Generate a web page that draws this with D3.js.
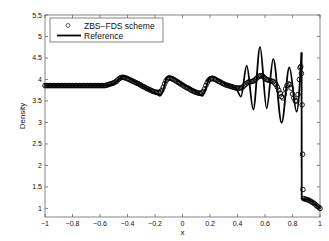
<!DOCTYPE html>
<html>
<head>
<meta charset="utf-8">
<script src="https://cdn.jsdelivr.net/npm/d3@7"></script>
<style>
  body { margin: 0; background: #fff; }
  text { font-family: "Liberation Sans", Arial, sans-serif; fill: #111; }
</style>
</head>
<body>
<div id="chart"></div>
<script>
// numerical solution (ZBS-FDS scheme), [x, density]
const schemePts = [
  [-1,3.857],[-0.99,3.857],[-0.98,3.857],[-0.97,3.857],[-0.96,3.857],[-0.95,3.857],[-0.94,3.857],[-0.93,3.857],[-0.92,3.857],[-0.91,3.857],
  [-0.9,3.857],[-0.89,3.857],[-0.88,3.857],[-0.87,3.857],[-0.86,3.857],[-0.85,3.857],[-0.84,3.857],[-0.83,3.857],[-0.82,3.857],[-0.81,3.857],
  [-0.8,3.857],[-0.79,3.857],[-0.78,3.857],[-0.77,3.857],[-0.76,3.857],[-0.75,3.857],[-0.74,3.857],[-0.73,3.857],[-0.72,3.857],[-0.71,3.857],
  [-0.7,3.857],[-0.69,3.857],[-0.68,3.857],[-0.67,3.857],[-0.66,3.857],[-0.65,3.857],[-0.64,3.857],[-0.63,3.857],[-0.62,3.857],[-0.61,3.857],
  [-0.6,3.857],[-0.59,3.857],[-0.58,3.857],[-0.57,3.857],
  [-0.56,3.86],[-0.55,3.87],[-0.54,3.88],[-0.53,3.89],[-0.52,3.90],[-0.51,3.91],[-0.5,3.92],[-0.49,3.94],[-0.48,3.96],[-0.47,3.99],
  [-0.46,4.02],[-0.45,4.04],[-0.44,4.05],[-0.43,4.05],[-0.42,4.04],[-0.41,4.03],[-0.4,4.02],[-0.39,4.00],[-0.38,3.99],[-0.37,3.97],
  [-0.36,3.96],[-0.35,3.94],[-0.34,3.93],[-0.33,3.91],[-0.32,3.90],[-0.31,3.88],[-0.3,3.86],[-0.29,3.84],[-0.28,3.83],[-0.27,3.81],
  [-0.26,3.79],[-0.25,3.78],[-0.24,3.76],[-0.23,3.75],[-0.22,3.73],[-0.21,3.72],[-0.2,3.71],[-0.19,3.70],[-0.18,3.70],[-0.17,3.70],
  [-0.16,3.71],[-0.15,3.75],[-0.14,3.82],[-0.13,3.90],[-0.12,3.97],[-0.11,4.01],[-0.1,4.03],[-0.09,4.03],[-0.08,4.02],[-0.07,4.01],
  [-0.06,3.99],[-0.05,3.97],[-0.04,3.95],[-0.03,3.93],[-0.02,3.91],[-0.01,3.89],
  [0,3.87],[0.01,3.85],[0.02,3.83],[0.03,3.81],[0.04,3.80],[0.05,3.78],[0.06,3.76],[0.07,3.74],[0.08,3.73],[0.09,3.71],
  [0.1,3.70],[0.11,3.69],[0.12,3.68],[0.13,3.68],[0.14,3.69],[0.15,3.72],[0.16,3.78],[0.17,3.86],[0.18,3.93],[0.19,3.98],
  [0.2,4.01],[0.21,4.02],[0.22,4.02],[0.23,4.01],[0.24,4.00],[0.25,3.98],[0.26,3.96],[0.27,3.95],[0.28,3.93],[0.29,3.91],
  [0.3,3.90],[0.31,3.88],[0.32,3.87],[0.33,3.86],[0.34,3.85],[0.35,3.84],[0.36,3.83],[0.37,3.82],[0.38,3.81],[0.39,3.80],
  [0.4,3.80],[0.41,3.80],[0.42,3.80],[0.43,3.81],[0.44,3.83],[0.45,3.86],[0.46,3.89],[0.47,3.92],[0.48,3.94],[0.49,3.95],
  [0.5,3.95],[0.51,3.96],[0.52,3.97],[0.53,4.00],[0.54,4.03],[0.55,4.06],[0.56,4.08],[0.57,4.09],[0.58,4.08],[0.59,4.06],
  [0.6,4.03],[0.61,4.00],[0.62,3.99],[0.63,3.98],[0.64,3.97],[0.65,3.96],[0.66,3.95],[0.67,3.92],[0.68,3.88],[0.69,3.82],
  [0.7,3.75],[0.71,3.68],[0.72,3.60],[0.73,3.57],[0.74,3.66],[0.75,3.78],[0.76,3.86],[0.77,3.90],[0.78,3.88],[0.79,3.80],
  [0.8,3.66],[0.81,3.57],[0.82,3.50],[0.83,3.50],[0.84,3.65],[0.85,4.00],[0.855,4.27],[0.86,4.30],[0.865,4.14],[0.87,3.41],
  [0.873,2.26],[0.876,1.44],[0.88,1.23],[0.89,1.22],[0.9,1.21],[0.91,1.20],[0.92,1.19],[0.93,1.17],[0.94,1.15],[0.95,1.13],
  [0.96,1.11],[0.97,1.08],[0.98,1.05],[0.99,1.03],[1,1.00]
];

// reference solution: before the shock, and after it
const refPre = [
  [-1,3.857],[-0.56,3.857],[-0.52,3.88],[-0.48,3.95],[-0.45,4.04],[-0.43,4.08],[-0.4,4.05],[-0.33,3.92],
  [-0.25,3.77],[-0.19,3.67],[-0.165,3.62],[-0.14,3.75],[-0.115,4.04],[-0.1,4.08],[-0.07,4.05],[0,3.90],
  [0.08,3.75],[0.145,3.62],[0.17,3.80],[0.195,4.04],[0.215,4.07],[0.25,4.02],[0.33,3.86],[0.39,3.79],
  [0.425,3.60],[0.467,4.32],[0.515,3.30],[0.564,4.76],[0.612,3.33],[0.66,4.48],[0.721,2.99],[0.777,4.28],
  [0.83,3.25],[0.866,4.63]
];
const refPost = [[0.867,1.22],[0.9,1.21],[0.93,1.18],[0.96,1.11],[1,1.0]];

const xTicks = [-1,-0.8,-0.6,-0.4,-0.2,0,0.2,0.4,0.6,0.8,1];
const yTicks = [1,1.5,2,2.5,3,3.5,4,4.5,5,5.5];

const W = 329, H = 241;
const L = 45, R = 320, T = 15, B = 217;

const svg = d3.select("#chart").append("svg")
  .attr("width", W).attr("height", H);

const x = d3.scaleLinear().domain([-1, 1]).range([L, R]);
const y = d3.scaleLinear().domain([0.8, 5.5]).range([B, T]);

const fmt = v => String(v).replace("-", "\u2212");
const axisCol = "#666";

// frame
svg.append("rect")
  .attr("x", L).attr("y", T).attr("width", R - L).attr("height", B - T)
  .attr("fill", "none").attr("stroke", axisCol).attr("stroke-width", 0.8);

// ticks on all four sides, pointing inward
const tl = 3;
xTicks.forEach(t => {
  svg.append("line").attr("x1", x(t)).attr("x2", x(t)).attr("y1", B).attr("y2", B - tl)
    .attr("stroke", axisCol).attr("stroke-width", 0.8);
  svg.append("line").attr("x1", x(t)).attr("x2", x(t)).attr("y1", T).attr("y2", T + tl)
    .attr("stroke", axisCol).attr("stroke-width", 0.8);
  svg.append("text").attr("x", x(t)).attr("y", B + 9)
    .attr("text-anchor", "middle").attr("font-size", 7).text(fmt(t));
});
yTicks.forEach(t => {
  svg.append("line").attr("x1", L).attr("x2", L + tl).attr("y1", y(t)).attr("y2", y(t))
    .attr("stroke", axisCol).attr("stroke-width", 0.8);
  svg.append("line").attr("x1", R).attr("x2", R - tl).attr("y1", y(t)).attr("y2", y(t))
    .attr("stroke", axisCol).attr("stroke-width", 0.8);
  svg.append("text").attr("x", L - 3).attr("y", y(t) + 2.5)
    .attr("text-anchor", "end").attr("font-size", 7).text(t);
});

// axis labels
svg.append("text").attr("x", (L + R) / 2).attr("y", 235)
  .attr("text-anchor", "middle").attr("font-size", 8).text("x");
svg.append("text")
  .attr("transform", `translate(25,${(T + B) / 2}) rotate(-90)`)
  .attr("text-anchor", "middle").attr("font-size", 8).text("Density");

// numerical scheme: open circles
svg.append("g").selectAll("circle")
  .data(schemePts)
  .join("circle")
  .attr("cx", d => x(d[0]))
  .attr("cy", d => y(d[1]))
  .attr("r", 2.3)
  .attr("fill", "none")
  .attr("stroke", "#000")
  .attr("stroke-width", 0.9);

// reference solution
const line = d3.line().x(d => x(d[0])).y(d => y(d[1]));
svg.append("path").datum(refPre)
  .attr("d", line.curve(d3.curveMonotoneX))
  .attr("fill", "none").attr("stroke", "#000").attr("stroke-width", 1.8);
svg.append("path").datum([refPre[refPre.length - 1], refPost[0]])
  .attr("d", d3.line().x(d => x(d[0])).y(d => y(d[1])))
  .attr("fill", "none").attr("stroke", "#000").attr("stroke-width", 1.8);
svg.append("path").datum(refPost)
  .attr("d", line.curve(d3.curveMonotoneX))
  .attr("fill", "none").attr("stroke", "#000").attr("stroke-width", 1.8);

// legend
const lg = svg.append("g");
lg.append("rect").attr("x", 50).attr("y", 18).attr("width", 113).attr("height", 24)
  .attr("fill", "#fff").attr("stroke", axisCol).attr("stroke-width", 0.8);
lg.append("circle").attr("cx", 68).attr("cy", 25.5).attr("r", 2)
  .attr("fill", "none").attr("stroke", "#000").attr("stroke-width", 0.6);
lg.append("text").attr("x", 84).attr("y", 28.5).attr("font-size", 8.5).text("ZBS\u2212FDS scheme");
lg.append("line").attr("x1", 57).attr("x2", 81).attr("y1", 35.5).attr("y2", 35.5)
  .attr("stroke", "#000").attr("stroke-width", 1.8);
lg.append("text").attr("x", 84).attr("y", 38.5).attr("font-size", 8.5).text("Reference");
</script>
</body>
</html>
